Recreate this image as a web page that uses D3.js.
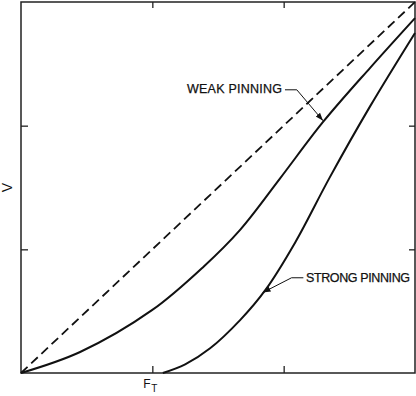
<!DOCTYPE html>
<html>
<head>
<meta charset="UTF-8">
<style>
  * { margin: 0; padding: 0; }
  html, body { width: 416px; height: 396px; background: #fff; overflow: hidden; }
  svg { display: block; font-family: "Liberation Sans", Arial, sans-serif; }
</style>
</head>
<body>
<div id="chart"></div>
<script src="https://cdn.jsdelivr.net/npm/d3@7/dist/d3.min.js"></script>
<script>
// values (force F, velocity V)
var weakF = [0, 0.45, 1.0, 1.39, 1.67, 1.97, 2.3, 2.66, 3.0];
var weakV = [0, 0.17, 0.51, 0.86, 1.16, 1.57, 2.03, 2.47, 2.87];
var strongF = [1.08, 1.25, 1.44, 1.67, 1.86, 2.09, 2.35, 2.66, 3.0];
var strongV = [0, 0.07, 0.2, 0.43, 0.67, 1.06, 1.58, 2.16, 2.75];
var ohmicF = [0, 3];
var ohmicV = [0, 3];
var tickVals = [1, 2];

var W = 416, H = 396;
var plotL = 21, plotR = 415, plotT = 2, plotB = 373;

var x = d3.scaleLinear().domain([0, 3]).range([plotL, plotR]);
var y = d3.scaleLinear().domain([0, 3]).range([plotB, plotT]);

var svg = d3.select("#chart").append("svg")
  .attr("width", W).attr("height", H);

// frame
svg.append("rect")
  .attr("x", plotL).attr("y", plotT)
  .attr("width", plotR - plotL).attr("height", plotB - plotT)
  .attr("fill", "none").attr("stroke", "#222").attr("stroke-width", 1.5);

// inward ticks on all four sides, no labels
function styleAxis(g) {
  g.select(".domain").remove();
  g.selectAll("line").attr("stroke", "#222").attr("stroke-width", 1.3);
  g.selectAll("text").remove();
}
svg.append("g").attr("transform", "translate(0," + plotB + ")")
  .call(d3.axisBottom(x).tickValues(tickVals).tickSize(-7)).call(styleAxis);
svg.append("g").attr("transform", "translate(0," + plotT + ")")
  .call(d3.axisTop(x).tickValues(tickVals).tickSize(-6)).call(styleAxis);
svg.append("g").attr("transform", "translate(" + plotL + ",0)")
  .call(d3.axisLeft(y).tickValues(tickVals).tickSize(-7)).call(styleAxis);
svg.append("g").attr("transform", "translate(" + plotR + ",0)")
  .call(d3.axisRight(y).tickValues(tickVals).tickSize(-6)).call(styleAxis);

var line = d3.line()
  .x(function(d) { return x(d[0]); })
  .y(function(d) { return y(d[1]); })
  .curve(d3.curveCatmullRom.alpha(0.5));

function pairs(a, b) { return a.map(function(v, i) { return [v, b[i]]; }); }

svg.append("path").datum(pairs(ohmicF, ohmicV))
  .attr("d", line).attr("fill", "none")
  .attr("stroke", "#111").attr("stroke-width", 1.8)
  .attr("stroke-dasharray", "9,5");

svg.append("path").datum(pairs(weakF, weakV))
  .attr("d", line).attr("fill", "none")
  .attr("stroke", "#111").attr("stroke-width", 2);

svg.append("path").datum(pairs(strongF, strongV))
  .attr("d", line).attr("fill", "none")
  .attr("stroke", "#111").attr("stroke-width", 2);

// arrowhead
svg.append("defs").append("marker")
  .attr("id", "arr").attr("viewBox", "0 0 10 10")
  .attr("refX", 10).attr("refY", 5)
  .attr("markerWidth", 8).attr("markerHeight", 8)
  .attr("markerUnits", "userSpaceOnUse")
  .attr("orient", "auto")
  .append("path").attr("d", "M0,1.5L10,5L0,8.5Z").attr("fill", "#111");

// annotations (leader lines in data space)
var notes = [
  { text: "WEAK PINNING", tx: 187, ty: 93, len: 95,
    pts: [[2.01, 2.29], [2.10, 2.29], [2.30, 2.04]] },
  { text: "STRONG PINNING", tx: 306, ty: 282, len: 104,
    pts: [[2.15, 0.77], [2.06, 0.77], [1.84, 0.65]] }
];
notes.forEach(function(n) {
  svg.append("path")
    .attr("d", d3.line().x(function(d) { return x(d[0]); }).y(function(d) { return y(d[1]); })(n.pts))
    .attr("fill", "none").attr("stroke", "#111").attr("stroke-width", 1)
    .attr("marker-end", "url(#arr)");
  svg.append("text")
    .attr("x", n.tx).attr("y", n.ty)
    .attr("textLength", n.len).attr("lengthAdjust", "spacing")
    .attr("font-size", 12.5).attr("fill", "#111")
    .attr("stroke", "#111").attr("stroke-width", 0.25)
    .text(n.text);
});

// axis labels
svg.append("text")
  .attr("transform", "translate(12," + ((plotT + plotB) / 2) + ") rotate(-90)")
  .attr("text-anchor", "middle")
  .attr("font-size", 14).attr("fill", "#111")
  .text("V");

var ft = svg.append("text")
  .attr("x", x(1) - 9).attr("y", 388)
  .attr("font-size", 12).attr("fill", "#111");
ft.append("tspan").text("F");
ft.append("tspan").attr("dy", 4).attr("dx", 0.5).attr("font-size", 10).text("T");
</script>
</body>
</html>
